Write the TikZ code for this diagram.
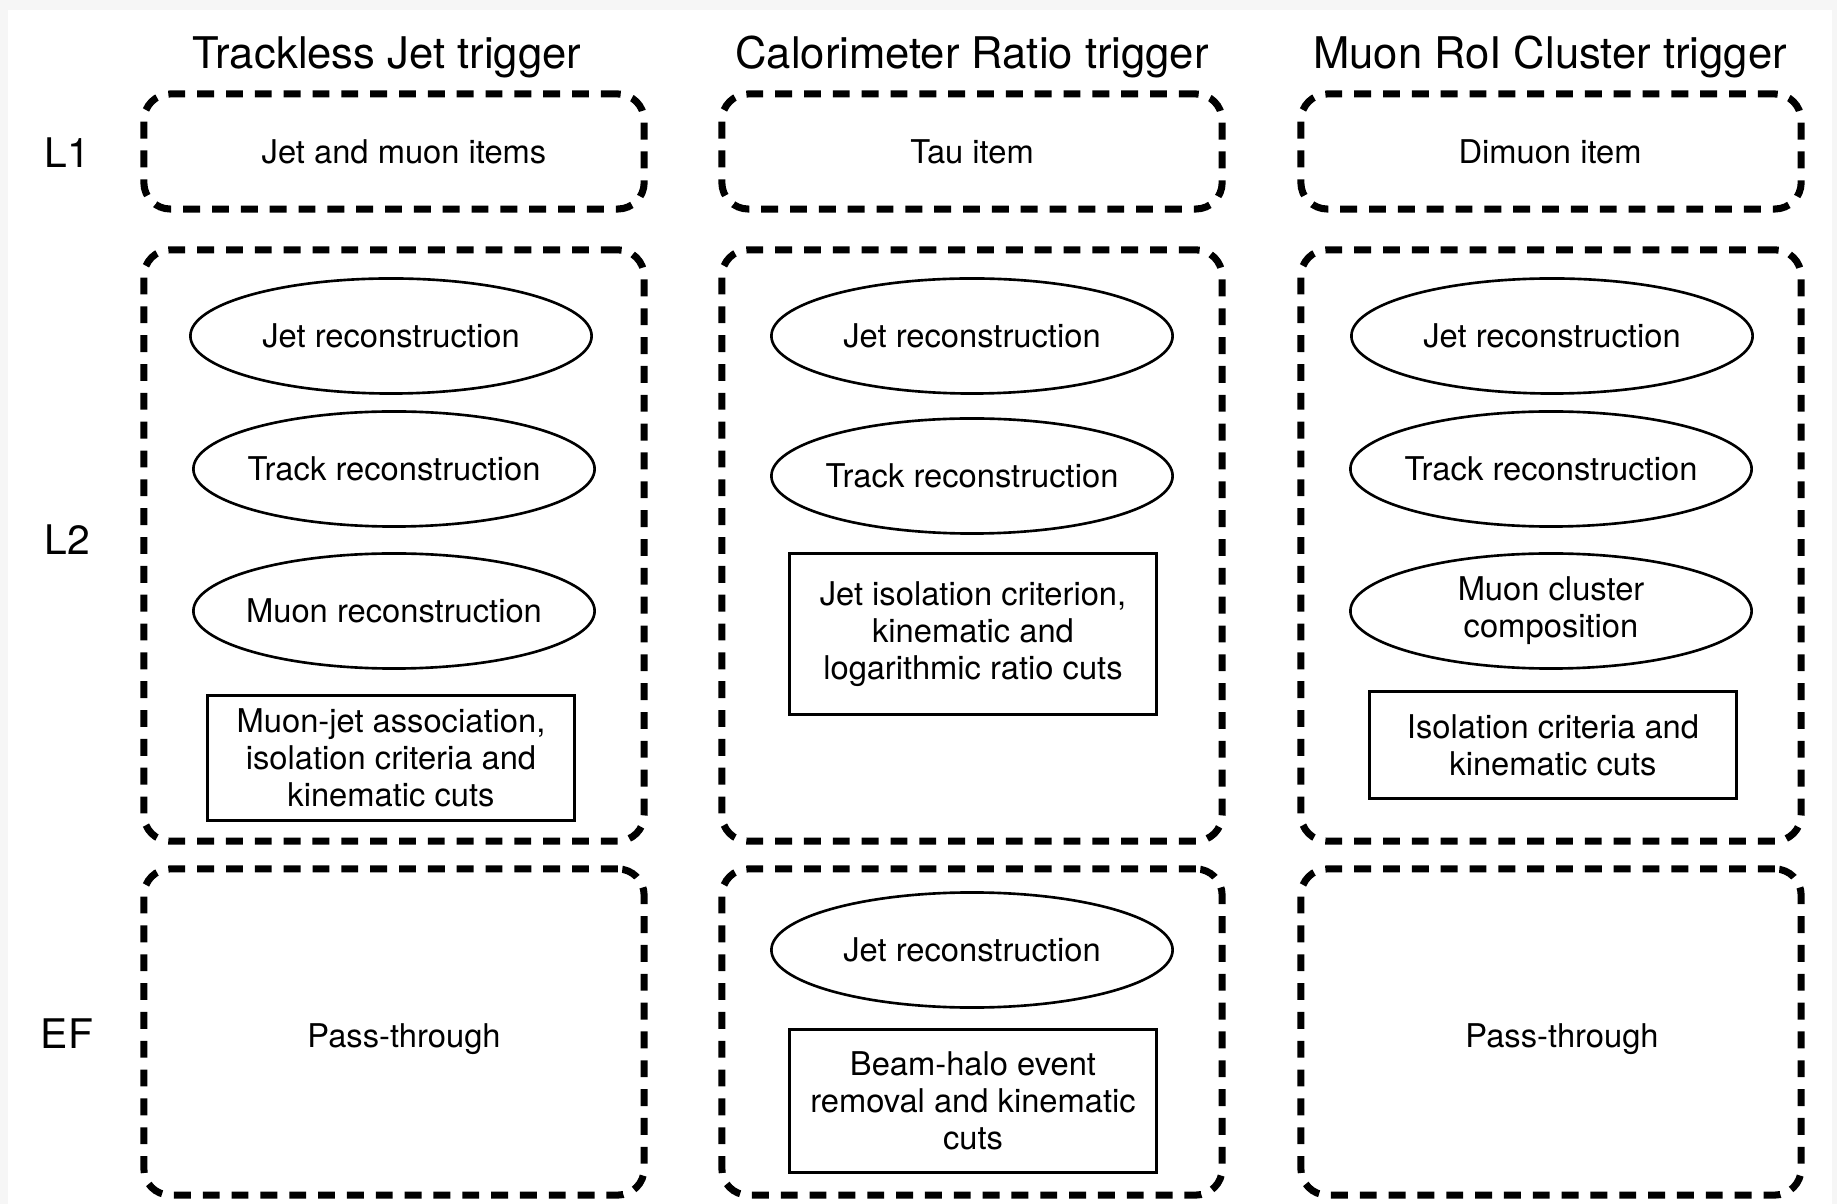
\documentclass[tikz,border=0pt]{standalone}
\usepackage{fontspec}
\setmainfont{TeX Gyre Heros}
\usetikzlibrary{shapes.geometric}

\begin{document}
\begin{tikzpicture}[x=0.01cm,y=-0.01cm,
   stage/.style={draw,line width=2pt,dash pattern=on 4.8pt off 3.4pt,rounded corners=7.5pt,minimum width=5cm},
   reco/.style={draw,ellipse,line width=.75pt,minimum width=4.01cm,minimum height=1.15cm,inner sep=0pt,inner xsep=-8pt,align=center,font=\fontsize{9.3}{10.5}\selectfont},
   cuts/.style={draw,line width=.85pt,minimum width=3.67cm,inner sep=0pt,align=center,font=\fontsize{9.3}{10.5}\selectfont},
   txt/.style={font=\fontsize{9.3}{10.5}\selectfont},
   head/.style={font=\fontsize{12.4}{14}\selectfont},
   lvl/.style={font=\fontsize{11.6}{13}\selectfont}]
  % page
  \fill[gray!7] (0,0) rectangle (1837,1204);
  \fill[white] (8,10) rectangle (1832,1204);
  \useasboundingbox (0,0) rectangle (1837,1204);

  % trigger names
  \node[head] (tjname) at (387,57) {Trackless Jet trigger};
  \node[head] (crname) at (972,57) {Calorimeter Ratio trigger};
  \node[head] (mcname) at (1550,57) {Muon RoI Cluster trigger};

  % levels
  \node[lvl] (l1) at (67,153) {L1};
  \node[lvl] (l2) at (67,540) {L2};
  \node[lvl] (ef) at (67,1034) {EF};

  % dashed stage boxes
  \foreach \cx/\c in {394/tj,972/cr,1551/mc}{
    \node[stage,minimum height=1.15cm] (\c-l1) at (\cx,151.5) {};
    \node[stage,minimum height=5.91cm] (\c-l2) at (\cx,545.5) {};
    \node[stage,minimum height=3.26cm] (\c-ef) at (\cx,1032) {};
  }

  % L1
  \node[txt] (tjitem) at (404,152) {Jet and muon items};
  \node[txt] (critem) at (972,152) {Tau item};
  \node[txt] (mcitem) at (1550,152) {Dimuon item};

  % trackless jet
  \node[reco] (tjjet) at (391,336) {Jet reconstruction};
  \node[reco] (tjtrk) at (394,469) {Track reconstruction};
  \node[reco] (tjmu) at (394,611) {Muon reconstruction};
  \node[cuts,minimum height=1.24cm] (tjcut) at (391,758) {Muon-jet association,\\ isolation criteria and\\ kinematic cuts};
  \node[txt] (tjpass) at (404,1039) {Pass-through};

  % calorimeter ratio
  \node[reco] (crjet) at (972,336) {Jet reconstruction};
  \node[reco] (crtrk) at (972,476) {Track reconstruction};
  \node[cuts,minimum height=1.6cm] (crcut) at (973,634) {Jet isolation criterion,\\ kinematic and\\ logarithmic ratio cuts};
  \node[reco] (crefjet) at (972,950) {Jet reconstruction};
  \node[cuts,minimum height=1.42cm] (crefcut) at (973,1101) {Beam-halo event\\ removal and kinematic\\ cuts};

  % muon roi cluster
  \node[reco] (mcjet) at (1552,336) {Jet reconstruction};
  \node[reco] (mctrk) at (1551,469) {Track reconstruction};
  \node[reco] (mcmu) at (1551,611) {Muon cluster\\ composition};
  \node[cuts,minimum height=1.07cm] (mccut) at (1553,745) {Isolation criteria and\\ kinematic cuts};
  \node[txt] (mcpass) at (1562,1039) {Pass-through};
\end{tikzpicture}
\end{document}
